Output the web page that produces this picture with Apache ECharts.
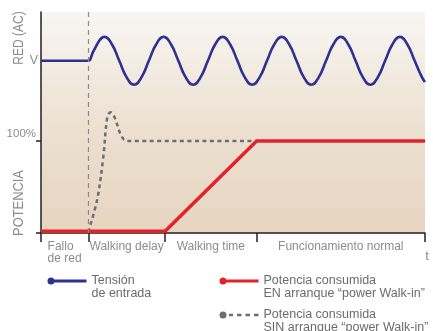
<!DOCTYPE html>
<html lang="es" style="height: 100%">
<head>
    <meta charset="UTF-8">
    <title>Walk-in</title>
    <script src="https://cdn.jsdelivr.net/npm/echarts@6/dist/echarts.min.js"></script>
</head>
<body style="height: 100%; margin: 0; background: #fff">
<div id="container" style="width: 433px; height: 331px"></div>
<script type="text/javascript">
    // tiempo (unidades arbitrarias) y niveles (0 = sin potencia, 100 = 100%)
    var failT = 16;          // fallo de red
    var delayEndT = 42;      // fin walking delay
    var rampEndT = 73;       // fin walking time
    var endT = 130;

    var tickTimes = [0, failT, delayEndT, rampEndT, endT];
    var phaseMid = [8, 29, 57.5, 101.5];
    var phaseLabels = ['{l|Fallo}\n{l|de red}', 'Walking delay', 'Walking time', 'Funcionamiento normal'];

    var vLevel = 187;
    var yLabelValues = [100, vLevel];

    // tension de entrada antes del fallo
    var voltFlatT = [0, 16.5];
    var voltFlatV = [187, 187];
    // tension de entrada despues del fallo (leido cada 1/8 de periodo)
    var voltT = [
        16.5, 19, 21.5, 24, 26.5, 29, 31.5, 34,
        36.5, 39, 41.5, 44, 46.5, 49, 51.5, 54,
        56.5, 59, 61.5, 64, 66.5, 69, 71.5, 74,
        76.5, 79, 81.5, 84, 86.5, 89, 91.5, 94,
        96.5, 99, 101.5, 104, 106.5, 109, 111.5, 114,
        116.5, 119, 121.5, 124, 126.5, 129, 130];
    var voltV = [
        187, 205, 213, 205, 187, 169, 161, 169,
        187, 205, 213, 205, 187, 169, 161, 169,
        187, 205, 213, 205, 187, 169, 161, 169,
        187, 205, 213, 205, 187, 169, 161, 169,
        187, 205, 213, 205, 187, 169, 161, 169,
        187, 205, 213, 205, 187, 169, 164];

    // potencia consumida CON walk-in
    var walkT = [0, 42, 73, 130];
    var walkV = [2, 2, 100, 100];

    // potencia consumida SIN walk-in
    var noWalkT = [16, 19, 21, 22.5, 23.6, 25, 27, 29, 73];
    var noWalkV = [1, 36, 80, 127, 131, 125, 107, 100, 100];

    function pairs(xs, ys) {
        var out = [];
        for (var i = 0; i < xs.length; i++) out.push([xs[i], ys[i]]);
        return out;
    }

    var FONT = "'Liberation Sans', Arial, sans-serif";
    var TXT = '#8c8c8c';
    var BLUE = '#2e3192', RED = '#e2232a', GREY = '#6e6e6e';
    var VOLT_NAME = 'Tensión\nde entrada';

    var solidIcon = 'path://M0,4a3.5,3.5 0 1,0 7,0a3.5,3.5 0 1,0 -7,0zM3.5,2.4v3.2h35.5v-3.2z';
    var dashIcon = 'path://M0,4a3.5,3.5 0 1,0 7,0a3.5,3.5 0 1,0 -7,0zM9.5,2.8v2.4h4v-2.4zM17.5,2.8v2.4h4.5v-2.4zM26,2.8v2.4h4.5v-2.4zM34.5,2.8v2.4h4.5v-2.4z';

    function legendAt(name, icon, left, top) {
        return {
            data: [name],
            left: left, top: top,
            padding: 0,
            icon: icon,
            itemWidth: 39, itemHeight: 8,
            selectedMode: false,
            // linea vacia arriba: la primera linea de texto queda a la altura del icono
            formatter: function (n) { return '\n' + n; },
            textStyle: {
                fontFamily: FONT, fontSize: 12.5, color: '#6b6b6b', lineHeight: 12.5
            }
        };
    }

    var myChart = echarts.init(document.getElementById('container'));
    var option = {
        animation: false,
        grid: {
            left: 41, right: 8, top: 12, bottom: 98,
            show: true, borderWidth: 0,
            backgroundColor: new echarts.graphic.LinearGradient(0, 0, 0, 1, [
                {offset: 0, color: '#f8f6f2'},
                {offset: 0.5, color: '#ede1d2'},
                {offset: 1, color: '#e6d4c0'}
            ])
        },
        xAxis: {
            type: 'value', min: 0, max: endT,
            splitLine: {show: false},
            axisLine: {lineStyle: {color: '#231f20', width: 1.5}},
            axisTick: {customValues: tickTimes, length: 9, lineStyle: {color: '#231f20', width: 1.5}},
            axisLabel: {
                customValues: phaseMid,
                margin: 8,
                formatter: function (v) {
                    var i = phaseMid.indexOf(v);
                    return i >= 0 ? phaseLabels[i] : '';
                },
                fontFamily: FONT, fontSize: 12, color: TXT, lineHeight: 12,
                verticalAlign: 'top',
                rich: {
                    l: {align: 'left', fontFamily: FONT, fontSize: 12, color: TXT, lineHeight: 12}
                }
            }
        },
        yAxis: {
            type: 'value', min: 0, max: 240,
            splitLine: {show: false},
            axisLine: {show: true, lineStyle: {color: '#231f20', width: 1.5}},
            axisTick: {show: true, customValues: [0, 100], length: 5, lineStyle: {color: '#231f20', width: 1.5}},
            axisLabel: {
                customValues: yLabelValues,
                margin: 3,
                formatter: function (v) {
                    return v === 100 ? '{p|100%}' : '{v|V}';
                },
                rich: {
                    p: {fontFamily: FONT, fontSize: 11.5, color: TXT, padding: [0, 2, 15, 0]},
                    v: {fontFamily: FONT, fontSize: 12.5, color: TXT}
                }
            }
        },
        legend: [
            legendAt(VOLT_NAME, solidIcon, 47.5, 262),
            legendAt('Potencia consumida\nEN arranque \u201cpower Walk-in\u201d', solidIcon, 219.5, 262),
            legendAt('Potencia consumida\nSIN arranque \u201cpower Walk-in\u201d', dashIcon, 219.5, 296)
        ],
        graphic: [
            {
                type: 'text', x: 19, y: 38, rotation: Math.PI / 2, scaleX: 0.86,
                style: {text: 'RED (AC)', fontFamily: FONT, fontSize: 14, fill: TXT,
                    align: 'center', verticalAlign: 'middle'}
            },
            {
                type: 'text', x: 19, y: 203, rotation: Math.PI / 2, scaleX: 0.92,
                style: {text: 'POTENCIA', fontFamily: FONT, fontSize: 14, fill: TXT,
                    align: 'center', verticalAlign: 'middle'}
            },
            {
                type: 'text', x: 427, y: 256,
                style: {text: 't', fontFamily: FONT, fontSize: 13, fill: TXT,
                    align: 'center', verticalAlign: 'middle'}
            }
        ],
        series: [
            {
                name: 'Potencia consumida\nSIN arranque \u201cpower Walk-in\u201d',
                type: 'line', data: pairs(noWalkT, noWalkV),
                smooth: 0.35, showSymbol: false, color: GREY,
                lineStyle: {color: GREY, width: 2.5, type: [4, 3.5]},
                z: 2
            },
            {
                name: VOLT_NAME,
                type: 'line', data: pairs(voltFlatT, voltFlatV),
                showSymbol: false, color: BLUE,
                lineStyle: {color: BLUE, width: 2.6},
                markLine: {
                    silent: true, symbol: 'none', label: {show: false},
                    lineStyle: {color: '#8a8a8a', width: 1.2, type: [5, 4]},
                    data: [{xAxis: failT}]
                },
                z: 3
            },
            {
                name: VOLT_NAME,
                type: 'line', data: pairs(voltT, voltV),
                smooth: 0.5, showSymbol: false, color: BLUE,
                lineStyle: {color: BLUE, width: 2.6},
                z: 3
            },
            {
                name: 'Potencia consumida\nEN arranque \u201cpower Walk-in\u201d',
                type: 'line', data: pairs(walkT, walkV),
                showSymbol: false, color: RED,
                lineStyle: {color: RED, width: 3.5},
                z: 4
            }
        ]
    };
    myChart.setOption(option);
</script>
</body>
</html>
